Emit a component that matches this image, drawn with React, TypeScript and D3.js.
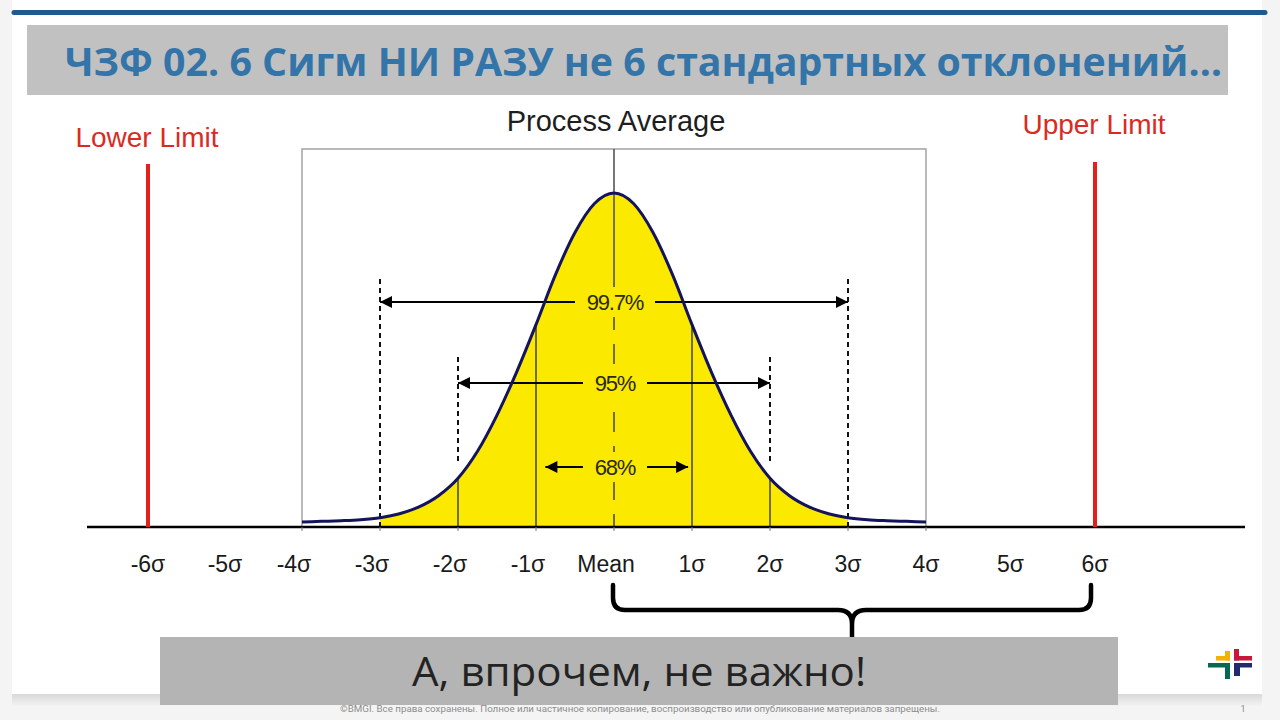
import React from "react";
import * as d3 from "d3";

// ---- data ----
const sigmaTicks = [-6, -5, -4, -3, -2, -1, 0, 1, 2, 3, 4, 5, 6];
const tickLabels = ["-6σ", "-5σ", "-4σ", "-3σ", "-2σ", "-1σ", "Mean", "1σ", "2σ", "3σ", "4σ", "5σ", "6σ"];

// curve: position (σ) and relative height (peak = 1)
const curveSigma = [-4, -3.75, -3.5, -3.25, -3, -2.75, -2.5, -2.25, -2, -1.75, -1.5, -1.25, -1, -0.75, -0.5, -0.25, 0,
  0.25, 0.5, 0.75, 1, 1.25, 1.5, 1.75, 2, 2.25, 2.5, 2.75, 3, 3.25, 3.5, 3.75, 4];
const curveHeight = [0, 0.002, 0.004, 0.007, 0.013, 0.025, 0.046, 0.08, 0.133, 0.215, 0.325, 0.455, 0.6, 0.752, 0.88, 0.968, 1,
  0.968, 0.88, 0.752, 0.6, 0.455, 0.325, 0.215, 0.133, 0.08, 0.046, 0.025, 0.013, 0.007, 0.004, 0.002, 0];

const fillFrom = -3;
const fillTo = 3;
const solidSigmaLines = [-2, -1, 1, 2];
const dashedShort = [-2, 2];
const dashedLong = [-3, 3];

const bandLabels = ["99.7%", "95%", "68%"];
const bandFrom = [-3, -2, -0.88];
const bandTo = [3, 2, 0.95];

const limitLabels = ["Lower Limit", "Upper Limit"];
const limitSigma = [-6, 6];

const titleText = "ЧЗФ 02. 6 Сигм НИ РАЗУ не 6 стандартных отклонений…";
const calloutText = "А, впрочем, не важно!";
const footerText = "©BMGI. Все права сохранены. Полное или частичное копирование,  воспроизводство или опубликование материалов запрещены.";
const pageNumber = "1";

export default function App() {
  const x = d3.scaleLinear().domain([-6, -4, 4, 6]).range([148, 302, 926, 1095]);
  const y = d3.scaleLinear().domain([0, 1]).range([522, 193]);
  const axisY = 527;

  const pts = curveSigma.map((s, i) => [s, curveHeight[i]] as [number, number]);
  const line = d3
    .line<[number, number]>()
    .x((d) => x(d[0]))
    .y((d) => y(d[1]))
    .curve(d3.curveMonotoneX);
  const area = d3
    .area<[number, number]>()
    .x((d) => x(d[0]))
    .y0(axisY - 1)
    .y1((d) => y(d[1]))
    .curve(d3.curveMonotoneX);
  const fillPts = pts.filter((d) => d[0] >= fillFrom && d[0] <= fillTo);
  const hAt = (s: number) => curveHeight[curveSigma.indexOf(s)];

  const yellow = "#fbe900";
  const olive = "#4f4f22";
  const font = "'Liberation Sans', Arial, sans-serif";

  const bandY = [302, 383, 467];

  const braceL = x(0) - 1;
  const braceR = x(6) - 4;
  const braceM = (braceL + braceR) / 2;
  const bTop = 585;
  const bMid = 610;
  const bTip = 638;
  const bracePath =
    `M${braceL},${bTop} L${braceL},${bMid - 12} Q${braceL},${bMid} ${braceL + 12},${bMid} L${braceM - 14},${bMid} Q${braceM},${bMid} ${braceM},${bMid + 14} L${braceM},${bTip}` +
    ` M${braceR},${bTop} L${braceR},${bMid - 12} Q${braceR},${bMid} ${braceR - 12},${bMid} L${braceM + 14},${bMid} Q${braceM},${bMid} ${braceM},${bMid + 14}`;

  return (
    <svg
      width={1280}
      height={720}
      style={{ position: "fixed", left: 0, top: 0, display: "block" }}
      xmlns="http://www.w3.org/2000/svg"
    >
      <defs>
        <linearGradient id="shadow" x1="0" y1="0" x2="0" y2="1">
          <stop offset="0" stopColor="#d9d9d9" />
          <stop offset="1" stopColor="#f3f3f3" />
        </linearGradient>
        <marker id="ah" viewBox="0 0 10 10" refX="10" refY="5" markerWidth="15" markerHeight="12" orient="auto-start-reverse" markerUnits="userSpaceOnUse">
          <path d="M0,0 L10,5 L0,10 z" fill="#000" />
        </marker>
      </defs>

      {/* page background */}
      <rect x={0} y={0} width={1280} height={720} fill="#f4f4f4" />
      <rect x={12} y={0} width={1250} height={694} fill="#ffffff" />
      <rect x={12} y={694} width={1250} height={12} fill="url(#shadow)" />

      {/* top rule and title bar */}
      <line x1={14} y1={12.5} x2={1265} y2={12.5} stroke="#1e5a8f" strokeWidth={5} strokeLinecap="round" />
      <rect x={27} y={25} width={1201} height={70} fill="#c1c1c1" />
      <text
        x={65}
        y={76}
        fontFamily="'Open Sans', 'Noto Sans', sans-serif"
        fontWeight={700}
        fontSize={40}
        fill="#3374a9"
        textLength={1157}
        lengthAdjust="spacingAndGlyphs"
      >
        {titleText}
      </text>

      {/* box of the chart */}
      <rect x={x(-4)} y={149} width={x(4) - x(-4)} height={axisY - 149} fill="none" stroke="#a3a3a3" strokeWidth={1.5} />

      {/* yellow area */}
      <path d={area(fillPts) || ""} fill={yellow} />

      {/* sigma lines */}
      {solidSigmaLines.map((s) => (
        <line key={"sl" + s} x1={x(s)} x2={x(s)} y1={axisY} y2={y(hAt(s))} stroke={olive} strokeWidth={1.6} />
      ))}
      {dashedShort.map((s) => (
        <line key={"ds" + s} x1={x(s)} x2={x(s)} y1={357} y2={462} stroke="#111" strokeWidth={2} strokeDasharray="5 4" />
      ))}
      {dashedLong.map((s) => (
        <line key={"dl" + s} x1={x(s)} x2={x(s)} y1={279} y2={axisY} stroke="#111" strokeWidth={2} strokeDasharray="5 4" />
      ))}

      {/* mean line */}
      <line x1={x(0)} x2={x(0)} y1={149} y2={282} stroke="#555" strokeWidth={1.6} />
      <line x1={x(0)} x2={x(0)} y1={282} y2={axisY} stroke={olive} strokeWidth={1.6} strokeDasharray="20 14" strokeDashoffset={-28} />

      {/* bands */}
      {bandLabels.map((lab, i) => {
        const y0 = bandY[i];
        const w = 40 + lab.length * 8;
        return (
          <g key={lab}>
            <line x1={x(bandFrom[i])} x2={x(bandTo[i])} y1={y0} y2={y0} stroke="#000" strokeWidth={1.8} markerStart="url(#ah)" markerEnd="url(#ah)" />
            <rect x={x(0) - w / 2 + 1} y={y0 - 15} width={w} height={30} fill={yellow} />
            <text x={x(0) + 1} y={y0 + 8} textAnchor="middle" fontFamily={font} fontSize={22} letterSpacing={-1.2} fill="#2a2a10">
              {lab}
            </text>
          </g>
        );
      })}

      {/* curve */}
      <path d={line(pts) || ""} fill="none" stroke="#13135e" strokeWidth={3} strokeLinejoin="round" />

      {/* axis */}
      <line x1={87} x2={1245} y1={axisY} y2={axisY} stroke="#000" strokeWidth={2.5} />
      {sigmaTicks
        .filter((s) => s >= -4 && s <= 4)
        .map((s) => (
          <line key={"t" + s} x1={x(s)} x2={x(s)} y1={axisY} y2={axisY + 4} stroke="#777" strokeWidth={1} />
        ))}
      {sigmaTicks.map((s, i) => (
        <text
          key={"lab" + s}
          x={x(s) + (s <= 0 && s >= -4 ? -8 : 0)}
          y={572}
          textAnchor="middle"
          fontFamily={font}
          fontSize={23}
          fill="#1a1a1a"
        >
          {tickLabels[i]}
        </text>
      ))}

      {/* limits */}
      {limitSigma.map((s, i) => (
        <g key={"lim" + s}>
          <line x1={x(s)} x2={x(s)} y1={i === 0 ? 164 : 162} y2={axisY} stroke="#e3201b" strokeWidth={4} />
          <text x={x(s) - 1} y={i === 0 ? 147 : 134} textAnchor="middle" fontFamily={font} fontSize={28} fill="#d92b24">
            {limitLabels[i]}
          </text>
        </g>
      ))}

      <text x={616} y={131} textAnchor="middle" fontFamily={font} fontSize={29} fill="#1e1e1e">
        Process Average
      </text>

      {/* brace and callout */}
      <path d={bracePath} fill="none" stroke="#000" strokeWidth={4.5} strokeLinecap="round" strokeLinejoin="round" />
      <rect x={160} y={637} width={958} height={68} fill="#b4b4b4" />
      <text
        x={412}
        y={686}
        fontFamily="'Open Sans', 'Noto Sans', sans-serif"
        fontSize={40}
        fill="#232323"
        textLength={454}
        lengthAdjust="spacingAndGlyphs"
      >
        {calloutText}
      </text>

      {/* logo */}
      <g>
        <rect x={1216} y={656} width={14} height={4.5} fill="#f2b200" />
        <rect x={1225} y={651} width={5} height={9.5} fill="#f2b200" />
        <rect x={1234} y={649} width={5} height={11.5} fill="#c8173a" />
        <rect x={1234} y={656} width={18} height={4.5} fill="#c8173a" />
        <rect x={1208} y={663} width={22} height={4.5} fill="#006b50" />
        <rect x={1225} y={663} width={5} height={16} fill="#006b50" />
        <rect x={1234} y={663} width={18} height={4.5} fill="#1f2b6e" />
        <rect x={1234} y={663} width={6} height={13} fill="#1f2b6e" />
      </g>

      {/* footer */}
      <text x={340} y={712} fontFamily="Roboto, sans-serif" fontSize={9} fill="#8c8c8c" textLength={600} lengthAdjust="spacingAndGlyphs">
        {footerText}
      </text>
      <text x={1243} y={712} textAnchor="middle" fontFamily="Roboto, sans-serif" fontSize={9} fill="#8c8c8c">
        {pageNumber}
      </text>
    </svg>
  );
}
